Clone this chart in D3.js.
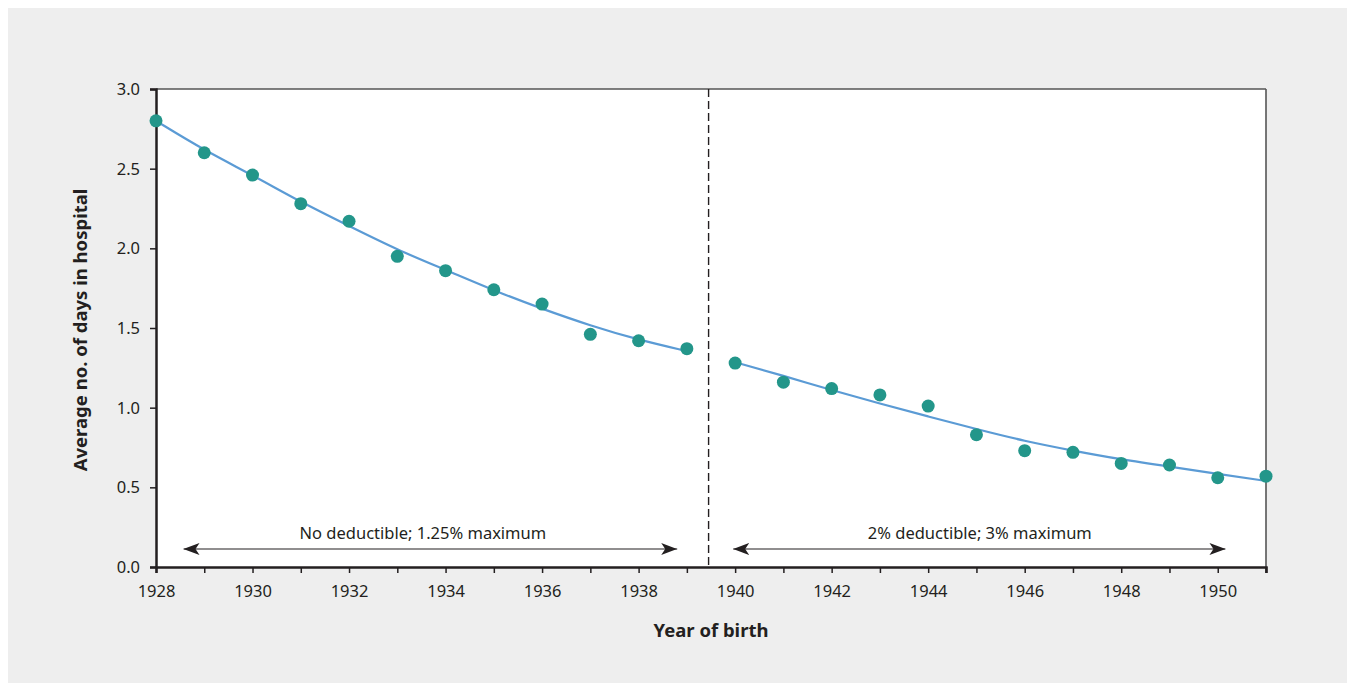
<!DOCTYPE html>
<html lang="en">
<head>
    <meta charset="UTF-8">
    <title>Hospital days by year of birth</title>
    <script src="https://d3js.org/d3.v7.min.js"></script>
    <style>
        body { margin: 0; background: #fff; }
        text { font-family: "Source Sans Pro", "Noto Sans", sans-serif; fill: #231f20; }
    </style>
</head>
<body>
<script>
    // observed averages
    const years = d3.range(1928, 1952);
    const days = [2.80, 2.60, 2.46, 2.28, 2.17, 1.95, 1.86, 1.74, 1.65, 1.46, 1.42, 1.37,
                  1.28, 1.16, 1.12, 1.08, 1.01, 0.83, 0.73, 0.72, 0.65, 0.64, 0.56, 0.57];

    // fitted trend
    const fitYearsA = d3.range(1928, 1940);
    const fitA = [2.80, 2.615, 2.46, 2.29, 2.14, 1.99, 1.865, 1.735, 1.62, 1.515, 1.425, 1.355];
    const fitYearsB = d3.range(1940, 1952);
    const fitB = [1.285, 1.20, 1.11, 1.025, 0.945, 0.865, 0.79, 0.73, 0.675, 0.63, 0.585, 0.54];

    const breakYear = 1939.45;
    const yTicks = [0, 0.5, 1.0, 1.5, 2.0, 2.5, 3.0];
    const xLabelYears = d3.range(1928, 1951, 2);

    const regimes = [
        { label: "No deductible; 1.25% maximum", from: 1928.57, to: 1938.8, mid: 1933.53 },
        { label: "2% deductible; 3% maximum", from: 1939.96, to: 1950.16, mid: 1945.07 }
    ];

    const width = 1355;
    const height = 683;

    const svg = d3.select("body").append("svg")
        .attr("width", width)
        .attr("height", height);

    svg.append("rect")
        .attr("x", 8).attr("y", 8)
        .attr("width", 1339).attr("height", 675)
        .attr("fill", "#eeeeee");

    const x = d3.scaleLinear().domain([1928, 1951]).range([156, 1266]);
    const y = d3.scaleLinear().domain([0, 3]).range([567, 89]);

    svg.append("rect")
        .attr("x", x(1928)).attr("y", y(3))
        .attr("width", x(1951) - x(1928)).attr("height", y(0) - y(3))
        .attr("fill", "#fff");

    // top and right frame
    svg.append("line")
        .attr("x1", x(1928)).attr("x2", x(1951))
        .attr("y1", y(3)).attr("y2", y(3))
        .attr("stroke", "#555").attr("stroke-width", 1.4);
    svg.append("line")
        .attr("x1", x(1951)).attr("x2", x(1951))
        .attr("y1", y(3)).attr("y2", y(0) + 6)
        .attr("stroke", "#555").attr("stroke-width", 1.6);

    const tickFont = "16.5px";

    // x axis
    const xAxis = svg.append("g")
        .attr("transform", `translate(0,${y(0)})`)
        .call(d3.axisBottom(x)
            .tickValues(years)
            .tickSize(6)
            .tickFormat(d => xLabelYears.includes(d) ? d : ""));
    xAxis.select(".domain").attr("stroke", "#231f20").attr("stroke-width", 2.5);
    xAxis.selectAll(".tick line").attr("stroke", "#231f20").attr("stroke-width", 1.5);
    xAxis.selectAll(".tick text")
        .attr("dy", 0).attr("y", 30)
        .style("font-size", tickFont)
        .style("font-family", "'Source Sans Pro', 'Noto Sans', sans-serif")
        .attr("fill", "#231f20");

    // y axis
    const yAxis = svg.append("g")
        .attr("transform", `translate(${x(1928)},0)`)
        .call(d3.axisLeft(y)
            .tickValues(yTicks)
            .tickSize(6)
            .tickFormat(d3.format(".1f")));
    yAxis.select(".domain").attr("stroke", "#231f20").attr("stroke-width", 2.5);
    yAxis.selectAll(".tick line").attr("stroke", "#231f20").attr("stroke-width", 1.5);
    yAxis.selectAll(".tick text")
        .attr("x", -16).attr("dy", "0.34em")
        .style("font-size", tickFont)
        .style("font-family", "'Source Sans Pro', 'Noto Sans', sans-serif")
        .attr("fill", "#231f20");

    // axis titles
    svg.append("text")
        .attr("x", 711).attr("y", 637)
        .attr("text-anchor", "middle")
        .style("font-size", "18.5px").style("font-weight", "bold")
        .text("Year of birth");
    svg.append("text")
        .attr("transform", `translate(87,${(y(0) + y(3)) / 2 + 2}) rotate(-90)`)
        .attr("text-anchor", "middle")
        .style("font-size", "18.5px").style("font-weight", "bold")
        .text("Average no. of days in hospital");

    // regime break
    svg.append("line")
        .attr("x1", x(breakYear)).attr("x2", x(breakYear))
        .attr("y1", y(3)).attr("y2", y(0))
        .attr("stroke", "#231f20").attr("stroke-width", 1.4)
        .attr("stroke-dasharray", "8,4");

    // arrow markers
    const defs = svg.append("defs");
    defs.append("marker")
        .attr("id", "head")
        .attr("viewBox", "0 0 16 12")
        .attr("refX", 16).attr("refY", 6)
        .attr("markerWidth", 16).attr("markerHeight", 12)
        .attr("markerUnits", "userSpaceOnUse")
        .attr("orient", "auto-start-reverse")
        .append("path")
        .attr("d", "M0,0 L16,6 L0,12 L4,6 Z")
        .attr("fill", "#231f20");

    regimes.forEach(r => {
        svg.append("line")
            .attr("x1", x(r.from)).attr("x2", x(r.to))
            .attr("y1", y(0.113)).attr("y2", y(0.113))
            .attr("stroke", "#231f20").attr("stroke-width", 1.2)
            .attr("marker-start", "url(#head)")
            .attr("marker-end", "url(#head)");
        svg.append("text")
            .attr("x", x(r.mid)).attr("y", 539)
            .attr("text-anchor", "middle")
            .style("font-size", "16.5px")
            .text(r.label);
    });

    // fitted curves
    const line = d3.line()
        .x(d => x(d[0]))
        .y(d => y(d[1]))
        .curve(d3.curveBasis);

    [[fitYearsA, fitA], [fitYearsB, fitB]].forEach(([ys, vs]) => {
        svg.append("path")
            .datum(ys.map((yr, i) => [yr, vs[i]]))
            .attr("fill", "none")
            .attr("stroke", "#5b9bd5")
            .attr("stroke-width", 2.2)
            .attr("d", line);
    });

    // observed points
    svg.append("g")
        .selectAll("circle")
        .data(years.map((yr, i) => [yr, days[i]]))
        .join("circle")
        .attr("cx", d => x(d[0]))
        .attr("cy", d => y(d[1]))
        .attr("r", 6.5)
        .attr("fill", "#23968a");
</script>
</body>
</html>
